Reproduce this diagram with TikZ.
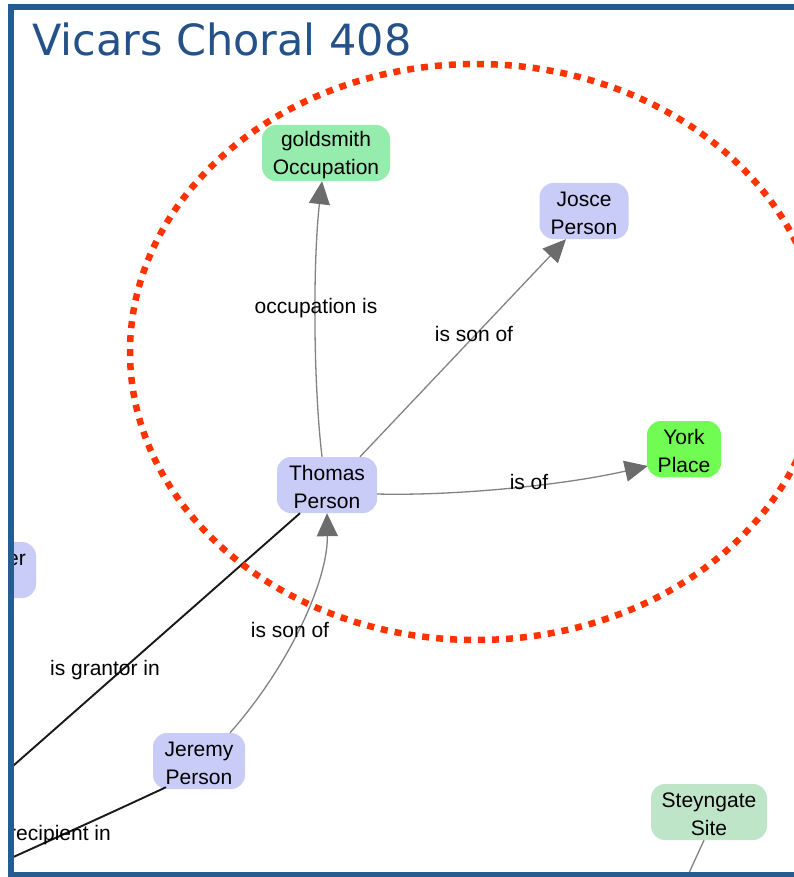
\documentclass[tikz,border=0pt]{standalone}
\usepackage{fontspec}
\setmainfont{Liberation Sans}
\newfontfamily\titlefont{DejaVu Sans}
\usetikzlibrary{arrows.meta,calc}

\definecolor{framecol}{RGB}{38,92,143}
\definecolor{titlecol}{RGB}{36,82,136}
\definecolor{personcol}{RGB}{201,204,247}
\definecolor{occupcol}{RGB}{150,236,172}
\definecolor{placecol}{RGB}{112,252,82}
\definecolor{sitecol}{RGB}{190,229,200}
\definecolor{edgecol}{RGB}{130,130,130}
\definecolor{tipcol}{RGB}{108,108,108}
\definecolor{ringcol}{RGB}{255,51,0}

\tikzset{
  entity/.style={rounded corners=14pt, minimum height=56pt, inner sep=0pt,
    align=center, font=\fontsize{21}{28}\selectfont, text=black},
  person/.style={entity, fill=personcol},
  link/.style={draw=edgecol, line width=1.3pt,
    -{Triangle[length=23pt,width=21pt,fill=tipcol,color=tipcol]}},
  plainlink/.style={draw=black!90, line width=1.9pt},
  greylink/.style={draw=edgecol, line width=1.3pt},
  lbl/.style={font=\fontsize{21}{24}\selectfont, inner sep=0pt},
  ring/.style={draw=ringcol, line width=6.5pt, dash pattern=on 7pt off 7pt}
}

\begin{document}
\begin{tikzpicture}[x=1pt,y=-1pt]
\useasboundingbox (0,0) rectangle (794,877);
\fill[white] (0,0) rectangle (794,877);

\begin{scope}
\clip (14,10) rectangle (794,872);

% entities
\node[entity, fill=occupcol, minimum width=128pt] (gold) at (326,153) {\strut goldsmith\\Occupation};
\node[person, minimum width=89pt] (josce) at (584,211) {\strut Josce\\Person};
\node[entity, fill=placecol, minimum width=74pt] (york) at (684,449) {\strut York\\Place};
\node[person, minimum width=100pt] (thomas) at (327,485) {\strut Thomas\\Person};
\node[person, minimum width=96pt] (other) at (-12,570) {};
\node[lbl, anchor=base east] (otherlbl) at (26,565) {er};
\node[person, minimum width=92pt] (jeremy) at (199,761) {\strut Jeremy\\Person};
\node[entity, fill=sitecol, minimum width=116pt] (steyn) at (709,812) {\strut Steyngate\\Site};

% loose ends leaving the view
\coordinate (grantorEnd) at (-20,795);
\coordinate (recipEnd) at (-20,872);
\coordinate (steynEnd) at (683,886);

% connectors
\draw[link] ($(thomas.north)+(-5,0)$) .. controls (313,380) and (313,260) .. ($(gold.south)+(-4,0)$);
\draw[link] ($(thomas.north)+(33,0)$) -- ($(josce.south)+(-18,0)$);
\draw[link] ($(thomas.east)+(0,9)$) .. controls (450,496) and (560,486) .. ($(york.west)+(1,17)$);
\draw[link] ($(jeremy.north)+(31,0)$) .. controls (290,665) and (328,580) .. (thomas.south);
\draw[plainlink] ($(thomas.south)+(-27,0)$) -- (grantorEnd);
\draw[plainlink] ($(jeremy.south)+(-33,-2)$) .. controls (100,818) and (40,845) .. (recipEnd);
\draw[greylink] ($(steyn.south)+(-5,0)$) -- (steynEnd);

% connector labels
\node[lbl] (l1) at (316,308) {occupation is};
\node[lbl] (l2) at (474,334) {is son of};
\node[lbl] (l3) at (529,482) {is of};
\node[lbl] (l4) at (290,630) {is son of};
\node[lbl] (l5) at (105,670) {is grantor in};
\node[lbl, anchor=east] (l6) at (111,835) {recipient in};

% highlight ring
\draw[ring] (476,352) ellipse [x radius=346, y radius=288];
\end{scope}

% frame
\fill[framecol] (8,4) rectangle (794,10);
\fill[framecol] (8,4) rectangle (14,877);
\fill[framecol] (8,872) rectangle (794,877);

% heading
\node[anchor=base west, inner sep=0pt, text=titlecol,
  font=\titlefont\fontsize{43}{50}\selectfont] (title) at (32,56) {Vicars Choral 408};
\end{tikzpicture}
\end{document}
